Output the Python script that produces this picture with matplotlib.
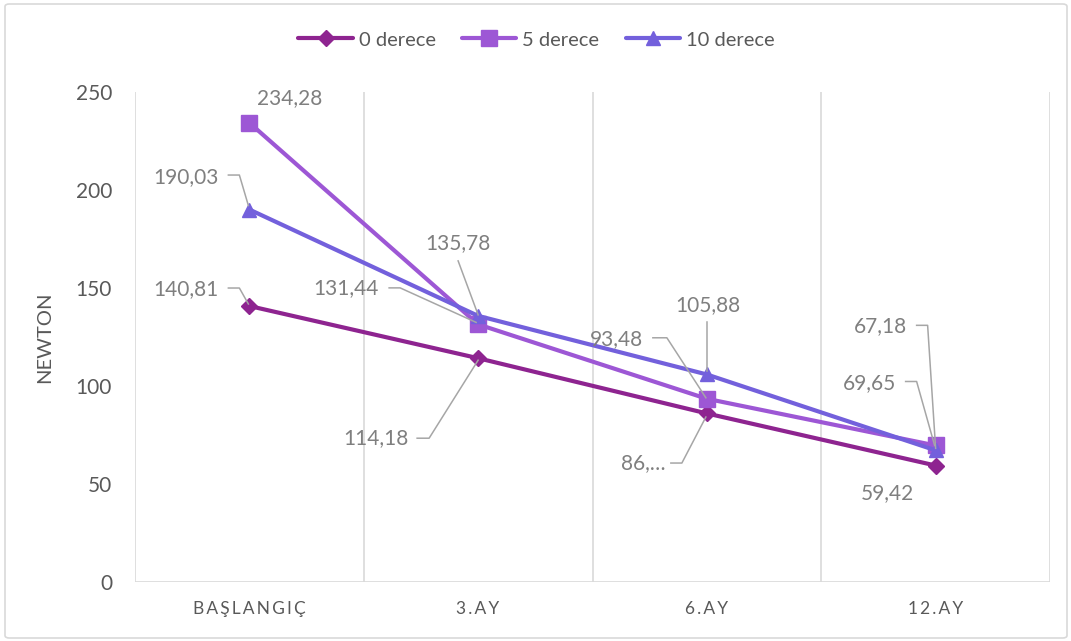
import matplotlib
matplotlib.use("Agg")
import matplotlib.pyplot as plt
from matplotlib.patches import FancyBboxPatch

# Data
categories = ["BAŞLANGIÇ", "3.AY", "6.AY", "12.AY"]
series_names = ["0 derece", "5 derece", "10 derece"]
deg0 = [140.81, 114.18, 86.0, 59.42]
deg5 = [234.28, 131.44, 93.48, 69.65]
deg10 = [190.03, 135.78, 105.88, 67.18]
y_ticks = [0, 50, 100, 150, 200, 250]
y_label = "NEWTON"

# Styling
colors = ["#8E2490", "#9D57D5", "#7360DC"]
markers = ["D", "s", "^"]
msizes = [8, 11, 10]
label_color = "#7F7F7F"
tick_color = "#595959"
grid_color = "#D9D9D9"
FONT = ["Lato", "DejaVu Sans"]
THIN = "\u2009"

W, H = 1071, 641
fig = plt.figure(figsize=(W / 100, H / 100), dpi=100)
fig.patch.set_facecolor("white")

# outer chart border
fig.patches.append(FancyBboxPatch((5 / W, 3 / H), 1062 / W, 634 / H,
                                  boxstyle="round,pad=0,rounding_size=0.004",
                                  transform=fig.transFigure, facecolor="none",
                                  edgecolor="#D9D9D9", linewidth=1.2))

ax = fig.add_axes([135 / W, (H - 582) / H, (1050 - 135) / W, (582 - 92) / H])
ax.set_xlim(-0.5, len(categories) - 0.5)
ax.set_ylim(0, 250)

# category separators as vertical gridlines
for b in [i + 0.5 for i in range(-1, len(categories))]:
    ax.axvline(b, color=grid_color, lw=1.2, zorder=0)
for s in ax.spines.values():
    s.set_visible(False)
ax.axhline(0, color=grid_color, lw=1.2, zorder=0)

# spaced-out category captions
ax.set_xticks(range(len(categories)))
ax.set_xticklabels([THIN.join(c) for c in categories], fontsize=12.5,
                   color=tick_color, family=FONT)
ax.set_yticks(y_ticks)
ax.set_yticklabels([str(v) for v in y_ticks], fontsize=15, color=tick_color, family=FONT)
ax.tick_params(axis="both", length=0)
ax.tick_params(axis="x", pad=14)
ax.tick_params(axis="y", pad=16.5)
ax.set_ylabel(y_label, fontsize=14.5, color=tick_color, family=FONT)
ax.yaxis.set_label_coords((53 - 135) / 915, 0.5)

xs = list(range(len(categories)))
all_series = [deg0, deg5, deg10]
for vals, name, c, m, ms in zip(all_series, series_names, colors, markers, msizes):
    ax.plot(xs, vals, color=c, lw=3.0, marker=m, markersize=ms,
            markeredgecolor=c, label=name, zorder=3, solid_capstyle="round")

leg = ax.legend(loc="center", bbox_to_anchor=((536.5 - 135) / 915, (582 - 40) / 490),
                ncol=3, frameon=False, prop={"family": FONT, "size": 14.5},
                handlelength=2.7, handletextpad=0.3, columnspacing=1.3,
                borderaxespad=0)
for t in leg.get_texts():
    t.set_color(tick_color)

fig.canvas.draw()


def fmt(v):
    return f"{v:.2f}".replace(".", ",")


# label layout: (series index, point index) -> text anchor offset (px), ha, leader vertices (px)
layout = {
    (1, 0): ((40, 25), "center", None),
    (2, 0): ((-31, 32.5), "right", [(-21, 34.5), (-10, 34.5), (-1, 4)]),
    (0, 0): ((-31, 17), "right", [(-21, 18), (-10, 18), (-1, 2)]),
    (1, 1): ((-99, 36), "right", [(-89, 36.5), (-78, 36.5), (-2, 2)]),
    (2, 1): ((-20, 73), "center", [(-20, 55), (0, 1)]),
    (0, 1): ((-70, -80), "right", [(-61, -80), (-49, -80), (0, -2)]),
    (2, 2): ((1, 69.5), "center", [(0, 52.5), (0, 3)]),
    (1, 2): ((-64, 60), "right", [(-54, 61), (-40, 61), (-1, 1)]),
    (0, 2): ((-41, -49.6), "right", [(-36, -49.6), (-25, -49.6), (-1, -3.6)]),
    (2, 3): ((-29, 124), "right", [(-19, 125), (-8, 125), (0, 2)]),
    (1, 3): ((-40, 62.5), "right", [(-30, 64), (-19, 64), (-1, 0)]),
    (0, 3): ((-48, -27.5), "center", None),
}
truncated = {(0, 2)}

for (si, pi), ((dx, dy), ha, leader) in layout.items():
    v = all_series[si][pi]
    px, py = ax.transData.transform((pi, v))
    txt = fmt(v).split(",")[0] + ",…" if (si, pi) in truncated else fmt(v)
    tx, ty = ax.transData.inverted().transform((px + dx, py + dy))
    ax.text(tx, ty, txt, ha=ha, va="center", fontsize=15, color=label_color,
            family=FONT, zorder=5)
    if leader:
        pts = [ax.transData.inverted().transform((px + a, py + b)) for a, b in leader]
        ax.plot([p[0] for p in pts], [p[1] for p in pts], color="#A6A6A6",
                lw=1.1, zorder=4, clip_on=False)

fig.savefig("out.png", dpi=100)
